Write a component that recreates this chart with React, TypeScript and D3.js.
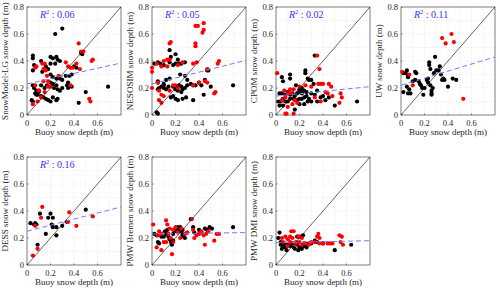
import * as React from 'react'
import * as d3 from 'd3'

const WIDTH = 500
const HEIGHT = 290
const PANEL_W = 94
const PANEL_H = 108
const PANEL_X = [27, 152, 276, 401]
const PANEL_Y = [7, 157]
const FONT = '"Liberation Serif", "DejaVu Serif", serif'

type Pt = [number, number]

// data (buoy depth, product depth)
const snowModelBlack: Pt[] = [
  [0.24, 0.6], [0.3, 0.64], [0.05, 0.44], [0.05, 0.42], [0.06, 0.37], [0.05, 0.33],
  [0.12, 0.4], [0.2, 0.43], [0.22, 0.42], [0.25, 0.43], [0.26, 0.41], [0.24, 0.38],
  [0.28, 0.4], [0.2, 0.38], [0.16, 0.36], [0.13, 0.32], [0.18, 0.34], [0.46, 0.46],
  [0.47, 0.45], [0.2, 0.3], [0.22, 0.28], [0.25, 0.27], [0.28, 0.27], [0.3, 0.26],
  [0.33, 0.29], [0.36, 0.29], [0.38, 0.3], [0.35, 0.24], [0.34, 0.22], [0.25, 0.22],
  [0.22, 0.23], [0.2, 0.24], [0.17, 0.22], [0.15, 0.2], [0.12, 0.22], [0.1, 0.18],
  [0.08, 0.18], [0.07, 0.16], [0.09, 0.15], [0.06, 0.2], [0.05, 0.22], [0.12, 0.14],
  [0.14, 0.13], [0.16, 0.12], [0.18, 0.11], [0.2, 0.1], [0.22, 0.13], [0.25, 0.11],
  [0.26, 0.12], [0.23, 0.2], [0.26, 0.19], [0.28, 0.18], [0.3, 0.2], [0.35, 0.2],
  [0.38, 0.21], [0.04, 0.11], [0.05, 0.1], [0.08, 0.15], [0.1, 0.17], [0.44, 0.09],
  [0.5, 0.17], [0.69, 0.21], [0.4, 0.36], [0.42, 0.35]
]
const snowModelRed: Pt[] = [
  [0.07, 0.22], [0.05, 0.08], [0.09, 0.1], [0.07, 0.35], [0.08, 0.36], [0.13, 0.38],
  [0.14, 0.34], [0.16, 0.33], [0.15, 0.38], [0.17, 0.29], [0.18, 0.25], [0.14, 0.25],
  [0.18, 0.21], [0.2, 0.21], [0.12, 0.13], [0.15, 0.17], [0.27, 0.29], [0.33, 0.39],
  [0.35, 0.36], [0.37, 0.35], [0.39, 0.35], [0.37, 0.22], [0.42, 0.38], [0.44, 0.53],
  [0.46, 0.47], [0.48, 0.47], [0.45, 0.34], [0.55, 0.4], [0.56, 0.41], [0.53, 0.12],
  [0.54, 0.1], [0.1, 0.18]
]
const nesosimBlack: Pt[] = [
  [0.05, 0.25], [0.05, 0.24], [0.02, 0.38], [0.05, 0.39], [0.07, 0.38], [0.1, 0.37],
  [0.15, 0.39], [0.18, 0.37], [0.2, 0.38], [0.23, 0.38], [0.25, 0.38], [0.28, 0.39],
  [0.22, 0.41], [0.2, 0.45], [0.15, 0.48], [0.16, 0.43], [0.24, 0.3], [0.28, 0.29],
  [0.3, 0.26], [0.33, 0.23], [0.35, 0.22], [0.37, 0.22], [0.4, 0.24], [0.42, 0.22],
  [0.45, 0.26], [0.47, 0.33], [0.48, 0.33], [0.15, 0.27], [0.12, 0.26], [0.1, 0.23],
  [0.08, 0.21], [0.06, 0.2], [0.05, 0.19], [0.1, 0.2], [0.12, 0.19], [0.14, 0.21],
  [0.18, 0.21], [0.2, 0.19], [0.22, 0.18], [0.25, 0.17], [0.26, 0.19], [0.28, 0.2],
  [0.3, 0.22], [0.16, 0.13], [0.18, 0.14], [0.2, 0.12], [0.22, 0.11], [0.26, 0.12],
  [0.29, 0.13], [0.35, 0.11], [0.44, 0.15], [0.5, 0.21], [0.69, 0.22], [0.04, 0.02],
  [0.05, 0.01], [0.1, 0.22], [0.23, 0.22], [0.25, 0.21]
]
const nesosimRed: Pt[] = [
  [0.37, 0.66], [0.39, 0.66], [0.44, 0.68], [0.43, 0.61], [0.44, 0.63], [0.15, 0.53],
  [0.16, 0.54], [0.37, 0.53], [0.37, 0.51], [0.0, 0.35], [0.0, 0.32], [0.04, 0.38],
  [0.1, 0.4], [0.13, 0.41], [0.15, 0.41], [0.08, 0.36], [0.13, 0.36], [0.22, 0.37],
  [0.26, 0.39], [0.35, 0.38], [0.38, 0.39], [0.47, 0.34], [0.56, 0.38], [0.57, 0.4],
  [0.0, 0.2], [0.05, 0.24], [0.06, 0.18], [0.08, 0.15], [0.1, 0.14], [0.06, 0.11],
  [0.08, 0.09], [0.15, 0.18], [0.18, 0.22], [0.2, 0.22], [0.22, 0.2], [0.35, 0.22],
  [0.4, 0.24], [0.45, 0.25], [0.47, 0.24], [0.53, 0.16], [0.54, 0.17]
]
const cpomBlack: Pt[] = [
  [0.33, 0.44], [0.05, 0.28], [0.06, 0.25], [0.12, 0.3], [0.12, 0.27], [0.17, 0.22],
  [0.2, 0.19], [0.22, 0.18], [0.22, 0.2], [0.25, 0.33], [0.25, 0.31], [0.27, 0.27],
  [0.28, 0.26], [0.3, 0.26], [0.32, 0.23], [0.03, 0.16], [0.05, 0.16], [0.08, 0.15],
  [0.1, 0.17], [0.12, 0.15], [0.14, 0.16], [0.16, 0.14], [0.18, 0.16], [0.2, 0.17],
  [0.22, 0.16], [0.24, 0.18], [0.26, 0.17], [0.3, 0.16], [0.33, 0.15], [0.35, 0.18],
  [0.02, 0.1], [0.04, 0.1], [0.06, 0.07], [0.08, 0.1], [0.1, 0.1], [0.12, 0.12],
  [0.15, 0.12], [0.18, 0.11], [0.2, 0.12], [0.22, 0.12], [0.24, 0.13], [0.26, 0.14],
  [0.28, 0.12], [0.3, 0.1], [0.16, 0.04], [0.2, 0.08], [0.24, 0.08], [0.27, 0.1],
  [0.38, 0.13], [0.4, 0.14], [0.42, 0.11], [0.45, 0.13], [0.5, 0.07], [0.69, 0.1],
  [0.35, 0.1], [0.06, 0.12], [0.03, 0.07]
]
const cpomRed: Pt[] = [
  [0.01, 0.31], [0.07, 0.18], [0.08, 0.01], [0.09, 0.01], [0.1, 0.06], [0.15, 0.01],
  [0.14, 0.08], [0.18, 0.09], [0.16, 0.11], [0.13, 0.16], [0.1, 0.16], [0.15, 0.19],
  [0.2, 0.21], [0.25, 0.22], [0.33, 0.13], [0.35, 0.44], [0.37, 0.34], [0.38, 0.23],
  [0.36, 0.23], [0.4, 0.23], [0.45, 0.23], [0.47, 0.21], [0.42, 0.17], [0.38, 0.1],
  [0.44, 0.16], [0.48, 0.14], [0.55, 0.16], [0.56, 0.13], [0.54, 0.09], [0.3, 0.21],
  [0.05, 0.11], [0.08, 0.13], [0.12, 0.19]
]
const uwBlack: Pt[] = [
  [0.02, 0.31], [0.04, 0.31], [0.05, 0.33], [0.06, 0.29], [0.06, 0.28], [0.1, 0.25],
  [0.12, 0.32], [0.13, 0.31], [0.12, 0.26], [0.15, 0.25], [0.16, 0.23], [0.17, 0.22],
  [0.18, 0.2], [0.2, 0.2], [0.19, 0.15], [0.22, 0.26], [0.23, 0.24], [0.24, 0.39],
  [0.24, 0.37], [0.25, 0.34], [0.25, 0.22], [0.26, 0.18], [0.26, 0.16], [0.26, 0.15],
  [0.27, 0.2], [0.29, 0.43], [0.3, 0.33], [0.32, 0.33], [0.33, 0.36], [0.34, 0.3],
  [0.35, 0.26], [0.36, 0.27], [0.37, 0.26], [0.4, 0.21], [0.44, 0.27], [0.47, 0.26],
  [0.02, 0.17], [0.06, 0.16], [0.07, 0.19], [0.08, 0.16], [0.05, 0.21], [0.23, 0.27],
  [0.28, 0.31]
]
const uwRed: Pt[] = [
  [0.01, 0.32], [0.07, 0.3], [0.1, 0.22], [0.35, 0.57], [0.38, 0.53], [0.43, 0.6],
  [0.45, 0.54], [0.53, 0.12]
]
const dessBlack: Pt[] = [
  [0.03, 0.31], [0.06, 0.3], [0.07, 0.31], [0.08, 0.3], [0.09, 0.15], [0.11, 0.38],
  [0.16, 0.23], [0.18, 0.35], [0.2, 0.38], [0.21, 0.3], [0.22, 0.28], [0.22, 0.35],
  [0.25, 0.28], [0.25, 0.22], [0.3, 0.29], [0.34, 0.32], [0.5, 0.41]
]
const dessRed: Pt[] = [
  [0.05, 0.07], [0.07, 0.29], [0.09, 0.12], [0.12, 0.35], [0.13, 0.43], [0.35, 0.32],
  [0.36, 0.39], [0.42, 0.29], [0.56, 0.36]
]
const bremenBlack: Pt[] = [
  [0.02, 0.23], [0.04, 0.22], [0.05, 0.17], [0.06, 0.16], [0.08, 0.21], [0.1, 0.21],
  [0.11, 0.25], [0.12, 0.23], [0.14, 0.21], [0.15, 0.19], [0.16, 0.17], [0.17, 0.15],
  [0.18, 0.18], [0.18, 0.23], [0.19, 0.26], [0.2, 0.25], [0.21, 0.27], [0.22, 0.28],
  [0.23, 0.26], [0.24, 0.25], [0.25, 0.24], [0.26, 0.22], [0.27, 0.21], [0.28, 0.2],
  [0.3, 0.24], [0.33, 0.34], [0.35, 0.28], [0.36, 0.24], [0.4, 0.26], [0.42, 0.24],
  [0.45, 0.27], [0.47, 0.26], [0.49, 0.28], [0.51, 0.27], [0.69, 0.28], [0.13, 0.26],
  [0.24, 0.28], [0.26, 0.26]
]
const bremenRed: Pt[] = [
  [0.01, 0.3], [0.04, 0.13], [0.05, 0.22], [0.06, 0.25], [0.08, 0.11], [0.1, 0.17],
  [0.12, 0.17], [0.12, 0.33], [0.13, 0.3], [0.14, 0.23], [0.15, 0.27], [0.16, 0.2],
  [0.17, 0.08], [0.18, 0.26], [0.2, 0.28], [0.22, 0.24], [0.25, 0.27], [0.28, 0.23],
  [0.3, 0.24], [0.34, 0.34], [0.35, 0.26], [0.36, 0.2], [0.38, 0.22], [0.4, 0.23],
  [0.42, 0.25], [0.44, 0.22], [0.45, 0.15], [0.46, 0.23], [0.48, 0.25], [0.53, 0.18],
  [0.55, 0.23], [0.57, 0.23], [0.08, 0.23], [0.18, 0.17], [0.24, 0.2]
]
const dmiBlack: Pt[] = [
  [0.02, 0.2], [0.03, 0.24], [0.04, 0.17], [0.04, 0.15], [0.05, 0.12], [0.06, 0.14],
  [0.07, 0.16], [0.08, 0.13], [0.09, 0.11], [0.1, 0.15], [0.12, 0.14], [0.14, 0.16],
  [0.15, 0.13], [0.16, 0.12], [0.18, 0.15], [0.18, 0.21], [0.19, 0.11], [0.2, 0.13],
  [0.22, 0.12], [0.23, 0.14], [0.24, 0.16], [0.25, 0.14], [0.26, 0.13], [0.28, 0.16],
  [0.3, 0.16], [0.33, 0.18], [0.35, 0.17], [0.4, 0.16], [0.5, 0.11], [0.64, 0.15],
  [0.21, 0.21], [0.23, 0.22]
]
const dmiRed: Pt[] = [
  [0.05, 0.2], [0.06, 0.17], [0.08, 0.21], [0.1, 0.19], [0.12, 0.21], [0.13, 0.25],
  [0.15, 0.25], [0.14, 0.2], [0.16, 0.15], [0.17, 0.17], [0.19, 0.21], [0.2, 0.21],
  [0.22, 0.2], [0.25, 0.16], [0.28, 0.15], [0.3, 0.17], [0.33, 0.17], [0.35, 0.21],
  [0.36, 0.23], [0.37, 0.2], [0.37, 0.16], [0.4, 0.16], [0.44, 0.16], [0.46, 0.16],
  [0.48, 0.16], [0.54, 0.22], [0.56, 0.21], [0.55, 0.17], [0.57, 0.15], [0.1, 0.14],
  [0.12, 0.17], [0.2, 0.17], [0.22, 0.15]
]

const productNames = [
  'SnowModel-LG', 'NESOSIM', 'CPOM', 'UW', 'DESS', 'PMW Bremen', 'PMW DMI'
]
const blackSeries = [snowModelBlack, nesosimBlack, cpomBlack, uwBlack, dessBlack, bremenBlack, dmiBlack]
const redSeries = [snowModelRed, nesosimRed, cpomRed, uwRed, dessRed, bremenRed, dmiRed]
// regression line value at x=0 and x=0.8
const fitStart = [0.23, 0.23, 0.14, 0.22, 0.25, 0.23, 0.165]
const fitEnd = [0.385, 0.405, 0.21, 0.43, 0.43, 0.24, 0.18]
const r2Labels = ['0.06', '0.05', '0.02', '0.11', '0.16', null, null]

const xTicks = [0, 0.2, 0.4, 0.6]
const yTicks = [0, 0.2, 0.4, 0.6, 0.8]
const gridTicks = d3.range(0.1, 0.8, 0.1)

function Panel({ index }: { index: number }) {
  const px = PANEL_X[index % 4]
  const py = PANEL_Y[Math.floor(index / 4)]
  const x = d3.scaleLinear().domain([0, 0.8]).range([0, PANEL_W])
  const y = d3.scaleLinear().domain([0, 0.8]).range([PANEL_H, 0])
  const r2 = r2Labels[index]
  return (
    <g transform={`translate(${px},${py})`}>
      {gridTicks.map(t => (
        <g key={t}>
          <line x1={x(t)} x2={x(t)} y1={0} y2={PANEL_H} stroke="#d4d4d4" strokeWidth={0.5} strokeDasharray="1,1.5" />
          <line x1={0} x2={PANEL_W} y1={y(t)} y2={y(t)} stroke="#d4d4d4" strokeWidth={0.5} strokeDasharray="1,1.5" />
        </g>
      ))}
      <rect x={0} y={0} width={PANEL_W} height={PANEL_H} fill="none" stroke="#262626" strokeWidth={0.6} />
      {blackSeries[index].map((d, i) => (
        <circle key={'b' + i} cx={x(d[0])} cy={y(d[1])} r={2.1} fill="#000" />
      ))}
      {redSeries[index].map((d, i) => (
        <circle key={'r' + i} cx={x(d[0])} cy={y(d[1])} r={2.1} fill="#ff0000" />
      ))}
      <line x1={x(0)} y1={y(0)} x2={x(0.8)} y2={y(0.8)} stroke="#000" strokeWidth={0.6} />
      <line
        x1={x(0)} y1={y(fitStart[index])} x2={x(0.8)} y2={y(fitEnd[index])}
        stroke="#6f7cff" strokeWidth={1} strokeDasharray="5,3"
      />
      {xTicks.map(t => (
        <g key={'x' + t}>
          <line x1={x(t)} x2={x(t)} y1={PANEL_H} y2={PANEL_H - 1.5} stroke="#262626" strokeWidth={0.5} />
          <text x={x(t)} y={PANEL_H + 11} textAnchor="middle" fontSize={8.5} fill="#262626" fontFamily={FONT}>
            {t === 0 ? '0' : t.toFixed(1)}
          </text>
        </g>
      ))}
      {yTicks.map(t => (
        <g key={'y' + t}>
          <line x1={0} x2={1.5} y1={y(t)} y2={y(t)} stroke="#262626" strokeWidth={0.5} />
          <text x={-3} y={y(t) + 3} textAnchor="end" fontSize={8.5} fill="#262626" fontFamily={FONT}>
            {t === 0 ? '0' : t.toFixed(1)}
          </text>
        </g>
      ))}
      <text x={PANEL_W / 2} y={PANEL_H + 20} textAnchor="middle" fontSize={9} fill="#262626" fontFamily={FONT}>
        Buoy snow depth (m)
      </text>
      <text
        transform={`translate(${-19.5},${PANEL_H / 2}) rotate(-90)`}
        textAnchor="middle" fontSize={9} fill="#262626" fontFamily={FONT}
      >
        {productNames[index]} snow depth (m)
      </text>
      {r2 && (
        <text x={x(0.11)} y={y(0.72)} fontSize={10} fill="#3333ff" fontFamily={FONT}>
          <tspan fontStyle="italic">R</tspan>
          <tspan fontSize={6.5} dy={-4}>2</tspan>
          <tspan dy={4}>{` : ${r2}`}</tspan>
        </text>
      )}
    </g>
  )
}

export default function App() {
  return (
    <svg
      width={WIDTH}
      height={HEIGHT}
      style={{ position: 'absolute', left: 0, top: 0, background: '#fff' }}
    >
      {productNames.map((_, i) => (
        <Panel key={i} index={i} />
      ))}
    </svg>
  )
}
